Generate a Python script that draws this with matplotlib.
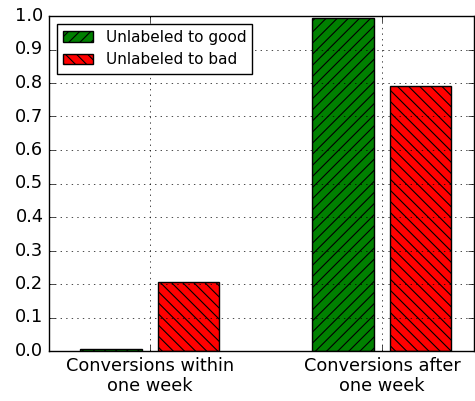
import numpy as np
import matplotlib
matplotlib.use('Agg')
import matplotlib.pyplot as plt

plt.style.use('classic')
plt.rcParams['hatch.linewidth'] = 0.8

categories = ['Conversions within\none week', 'Conversions after\none week']
to_good = [0.005, 0.995]
to_bad = [0.207, 0.792]

fig, ax = plt.subplots(figsize=(4.75, 4.01), dpi=100)
fig.subplots_adjust(left=49/475, right=474/475, top=1-16/401, bottom=1-351/401)

ind = np.arange(len(categories))
width = 0.265
off = 0.167

ax.bar(ind - off, to_good, width, align='center', color='green', edgecolor='black',
       hatch='///', label='Unlabeled to good')
ax.bar(ind + off, to_bad, width, align='center', color='red', edgecolor='black',
       hatch='\\\\\\', label='Unlabeled to bad')

ax.set_xticks(ind)
ax.set_xticklabels(categories)
ax.set_xlim(-0.435, 1.397)
ax.set_ylim(0, 1.0)
ax.set_yticks(np.arange(0, 1.01, 0.1))
ax.tick_params(labelsize=12.8)
ax.grid(True)
ax.legend(loc='upper left', fontsize=11)

fig.savefig('out.png', dpi=100)
